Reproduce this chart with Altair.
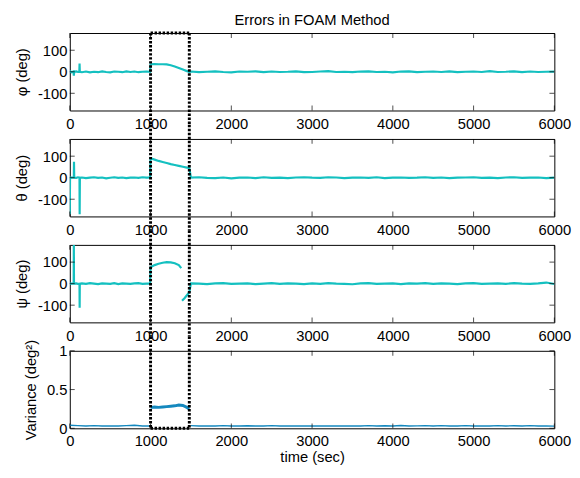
import altair as alt
import pandas as pd

# ---------------- data ----------------
TICKS_X = [0, 1000, 2000, 3000, 4000, 5000, 6000]
ANGLE_TICKS = [-100, 0, 100]
VAR_TICKS = [0, 0.5, 1]
BOX_T = [1000, 1480]

T_LATE = list(range(1500, 6001, 100))
T_EARLY_GRID = list(range(150, 951, 50))

# phi
PHI_T_A = [0, 20, 45, 50, 55, 80, 100, 118, 121, 124] + T_EARLY_GRID + [995]
PHI_V_A = [4, -2, 1, -18, 0, 2, -1, 0, 38, 0,
           -2, 1, -3, 0, -2, 2, -1, -3, 1, 0, -2, 2, -1, 1, -2, 0, 1, 0]
PHI_T_B = [1000, 1050, 1100, 1150, 1200, 1250, 1300, 1350, 1400, 1450, 1480]
PHI_V_B = [35, 36, 35, 35, 34, 30, 24, 17, 10, 3, -2]
PHI_V_C = [1, -2, 0, 2, -1, -3, 1, 0, 2, -2,
           1, -1, 0, 2, -2, -1, 1, 3, -1, 0,
           -2, 1, 2, -1, 0, -3, 1, 2, -2, 0,
           1, -1, 2, -2, 0, 1, -1, 3, -1, 0,
           2, -2, 1, -1, 0, 1]

# theta
THETA_T_A = [0, 3, 10, 50, 52, 55, 80, 100, 120, 122, 125] + T_EARLY_GRID + [995]
THETA_V_A = [-170, 0, 1, 0, 74, 0, -1, 2, 0, -170, 0,
             1, -2, 0, 2, -1, 1, -3, 0, 2, -1, 1, -2, 0, 1, -1, 2, 0, 1]
THETA_T_B = [1000, 1050, 1100, 1150, 1200, 1250, 1300, 1350, 1400, 1450, 1480]
THETA_V_B = [90, 84, 78, 73, 68, 63, 59, 55, 51, 47, 44]
THETA_V_C = [0, 2, -1, -2, 1, -3, 0, 1, -2, 2,
             -1, 0, -2, 1, 2, 0, -1, 2, 1, -2,
             0, 1, -1, 2, -2, 0, 1, -1, 0, 2,
             -1, 1, -2, 0, 1, 2, -1, 0, -2, 1,
             2, -1, 0, 1, -2, 0]

# psi
PSI_T_A = [0, 48, 50, 52, 80, 100, 120, 122, 124] + T_EARLY_GRID + [995]
PSI_V_A = [0, 0, 200, 0, 1, -1, 0, -112, 0,
           1, -1, 2, 0, -2, 1, 0, -1, 2, -2, 1, 0, -1, 1, 2, -1, 0, 0]
PSI_T_B1 = [1000, 1050, 1100, 1150, 1200, 1250, 1300, 1350, 1380]
PSI_V_B1 = [76, 86, 92, 97, 100, 99, 95, 86, 72]
PSI_T_B2 = [1390, 1420, 1450, 1480]
PSI_V_B2 = [-80, -68, -54, -40]
PSI_V_C = [1, 0, -2, 1, 2, -1, 0, 1, -2, 0,
           2, -1, 1, 0, -2, 1, -1, 2, 0, -1,
           -3, 1, 2, -1, 0, 1, -2, 1, 0, 2,
           -1, 1, 0, -2, 1, 2, -1, 0, 1, -1,
           2, 0, -1, 1, 5, -2]

# variance
VAR_T_A = [0, 100, 200, 300, 400, 500, 600, 700, 800, 900, 995]
VAR_V_A = [0.04, 0.035, 0.03, 0.035, 0.03, 0.032, 0.03, 0.035, 0.04, 0.03, 0.03]
VAR_T_B = [1000, 1050, 1100, 1150, 1200, 1250, 1300, 1350, 1400, 1450, 1480]
VAR_V_B = [0.27, 0.275, 0.27, 0.275, 0.28, 0.285, 0.29, 0.30, 0.295, 0.27, 0.25]
VAR_V_C = [0.035, 0.03, 0.032, 0.03, 0.035, 0.03, 0.03, 0.033, 0.03, 0.03,
           0.035, 0.03, 0.03, 0.03, 0.032, 0.03, 0.03, 0.03, 0.03, 0.03,
           0.03, 0.03, 0.035, 0.03, 0.033, 0.03, 0.036, 0.03, 0.032, 0.035,
           0.03, 0.034, 0.03, 0.03, 0.035, 0.03, 0.032, 0.03, 0.034, 0.03,
           0.033, 0.03, 0.035, 0.03, 0.03, 0.028]


def frame(segments):
    rows = []
    for seg, (ts, vs) in enumerate(segments):
        assert len(ts) == len(vs)
        rows += [{"t": t, "v": v, "seg": seg} for t, v in zip(ts, vs)]
    return pd.DataFrame(rows)


phi_df = frame([(PHI_T_A + PHI_T_B + T_LATE, PHI_V_A + PHI_V_B + PHI_V_C)])
theta_df = frame([(THETA_T_A + THETA_T_B + T_LATE, THETA_V_A + THETA_V_B + THETA_V_C)])
psi_df = frame([(PSI_T_A + PSI_T_B1, PSI_V_A + PSI_V_B1),
                (PSI_T_B2 + T_LATE, PSI_V_B2 + PSI_V_C)])
var_df = frame([(VAR_T_A, VAR_V_A), (VAR_T_B, VAR_V_B), (T_LATE, VAR_V_C)])

# ---------------- styling ----------------
W, H = 494, 79
GAP = 29
CYAN = "#14C0C0"
BLUE = "#1488BE"
FONT = "Liberation Sans"
FS = 15
DOT = dict(color="black", strokeWidth=3, strokeDash=[2.5, 1.6])


def panel(df, ytitle, ydomain, yticks, position, xtitle=None, var=False, title=None):
    xscale = alt.Scale(domain=[0, 6000], nice=False, zero=False)
    yscale = alt.Scale(domain=ydomain, nice=False, zero=False)
    xaxis_kw = dict(values=TICKS_X, tickCount=20, labelExpr="'' + datum.value",
                    labelFlush=False, labelOverlap=False, labelPadding=6)
    if xtitle:
        xaxis = alt.Axis(title=xtitle, titlePadding=1, **xaxis_kw)
    else:
        xaxis = alt.Axis(title=None, **xaxis_kw)
    yaxis = alt.Axis(values=yticks, tickCount=20, labelExpr="'' + datum.value",
                     labelOverlap=False, labelFlush=False, labelPadding=3, title=ytitle)
    enc_x = alt.X("t:Q", scale=xscale, axis=xaxis)
    enc_y = alt.Y("v:Q", scale=yscale, axis=yaxis)

    base = alt.Chart(df)
    if var:
        lines = [
            base.transform_filter("datum.seg != 1").mark_line(color=BLUE, strokeWidth=1.4, clip=True)
            .encode(x=enc_x, y=enc_y, detail="seg:N"),
            base.transform_filter("datum.seg == 1").mark_line(color=BLUE, strokeWidth=3, clip=True)
            .encode(x=enc_x, y=enc_y, detail="seg:N"),
        ]
    else:
        lines = [base.mark_line(color=CYAN, strokeWidth=2.2, clip=True)
                 .encode(x=enc_x, y=enc_y, detail="seg:N")]

    xt = alt.Chart(pd.DataFrame({"t": TICKS_X}))
    yt = alt.Chart(pd.DataFrame({"v": yticks}))
    ticks = [
        xt.mark_tick(orient="vertical", size=5, thickness=1, color="black")
        .encode(x="t:Q", y=alt.value(H - 2.5)),
        xt.mark_tick(orient="vertical", size=5, thickness=1, color="black")
        .encode(x="t:Q", y=alt.value(2.5)),
        yt.mark_tick(orient="horizontal", size=5, thickness=1, color="black")
        .encode(y="v:Q", x=alt.value(2.5)),
        yt.mark_tick(orient="horizontal", size=5, thickness=1, color="black")
        .encode(y="v:Q", x=alt.value(W - 2.5)),
    ]

    half = GAP / 2
    top = 0 if position == "first" else -half
    bottom = H if position == "last" else H + half
    box = alt.Chart(pd.DataFrame({"t": BOX_T}))
    rules = [box.mark_rule(**DOT).encode(x="t:Q", y=alt.value(top), y2=alt.value(bottom))]
    hdf = alt.Chart(pd.DataFrame({"t": [BOX_T[0]], "t2": [BOX_T[1]]}))
    if position == "first":
        rules.append(hdf.mark_rule(**DOT).encode(x="t:Q", x2="t2:Q", y=alt.value(0)))
    if position == "last":
        rules.append(hdf.mark_rule(**DOT).encode(x="t:Q", x2="t2:Q", y=alt.value(H)))

    props = dict(width=W, height=H)
    if title:
        props["title"] = alt.TitleParams(title, anchor="middle", frame="group", fontSize=FS,
                                         fontWeight="normal", font=FONT, color="black", offset=4)
    return alt.layer(*lines, *ticks, *rules).properties(**props)


p1 = panel(phi_df, "\u03c6 (deg)", [-180, 180], ANGLE_TICKS, "first", title="Errors in FOAM Method")
p2 = panel(theta_df, "\u03b8 (deg)", [-180, 180], ANGLE_TICKS, "mid")
p3 = panel(psi_df, "\u03c8 (deg)", [-180, 180], ANGLE_TICKS, "mid")
p4 = panel(var_df, "Variance (deg\u00b2)", [0, 1], VAR_TICKS, "last", xtitle="time (sec)", var=True)

chart = (
    alt.vconcat(p1, p2, p3, p4, spacing=GAP, bounds="flush")
    .properties(
        padding={"left": 6, "top": 0, "right": 0, "bottom": 0},
        background="white",
    )
    .configure_view(stroke="black", strokeWidth=1)
    .configure_axis(
        labelFont=FONT, labelFontSize=FS, labelColor="black",
        titleFont=FONT, titleFontSize=FS, titleFontWeight="normal", titleColor="black",
        ticks=False, tickSize=0, domain=False, grid=False, labelOverlap=False,
        titlePadding=8,
    )
)

chart.save("out.html", embed_options={"renderer": "svg", "actions": False})
